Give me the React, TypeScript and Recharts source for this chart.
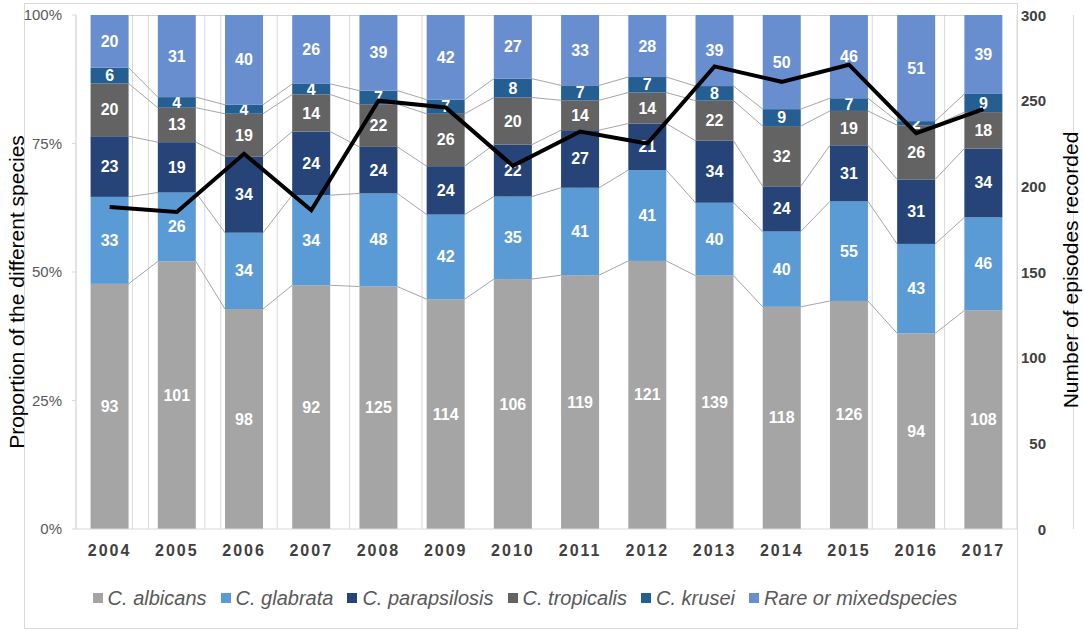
import React from "react";
import { ComposedChart, Bar, Line, XAxis, YAxis, CartesianGrid, Legend, Label } from "recharts";

const years = ["2004", "2005", "2006", "2007", "2008", "2009", "2010", "2011", "2012", "2013", "2014", "2015", "2016", "2017"];

const albicans = [93, 101, 98, 92, 125, 114, 106, 119, 121, 139, 118, 126, 94, 108];
const glabrata = [33, 26, 34, 34, 48, 42, 35, 41, 41, 40, 40, 55, 43, 46];
const parapsilosis = [23, 19, 34, 24, 24, 24, 22, 27, 21, 34, 24, 31, 31, 34];
const tropicalis = [20, 13, 19, 14, 22, 26, 20, 14, 14, 22, 32, 19, 26, 18];
const krusei = [6, 4, 4, 4, 7, 7, 8, 7, 7, 8, 9, 7, 2, 9];
const rare = [20, 31, 40, 26, 39, 42, 27, 33, 28, 39, 50, 46, 51, 39];

// total episodes (black line, right axis)
const episodes = [188, 185, 219, 186, 250, 246, 212, 232, 225, 270, 261, 271, 231, 245];

const percentTicks = [0, 0.25, 0.5, 0.75, 1];
const episodeTicks = [0, 50, 100, 150, 200, 250, 300];
// vertical grid: category boundaries plus a line next to each bar's right edge
const gridTicks = [
  0, 0.78, 1, 1.78, 2, 2.78, 3, 3.78, 4, 4.78, 5, 5.78, 6, 6.78, 7, 7.78,
  8, 8.78, 9, 9.78, 10, 10.78, 11, 11.78, 12, 12.78, 13, 13.78, 14,
];

const species = [
  { key: "albicans", name: "C. albicans", color: "#A5A5A5", values: albicans },
  { key: "glabrata", name: "C. glabrata", color: "#5B9BD5", values: glabrata },
  { key: "parapsilosis", name: "C. parapsilosis", color: "#264478", values: parapsilosis },
  { key: "tropicalis", name: "C. tropicalis", color: "#636363", values: tropicalis },
  { key: "krusei", name: "C. krusei", color: "#255E91", values: krusei },
  { key: "rare", name: "Rare or mixedspecies", color: "#698ED0", values: rare },
];

const total = (i: number) => species.reduce((acc, s) => acc + s.values[i], 0);

// each bar segment is the share of that year's episodes
const rows = years.map((year, i) => {
  const row: Record<string, any> = { year, episodes: episodes[i] };
  species.forEach((s) => (row[s.key] = s.values[i] / total(i)));
  return row;
});

const FONT = "'Liberation Sans', Arial, sans-serif";
const W = 1084;
const H = 631;
const LEFT_W = 76;
const RIGHT_W = 67;
const STEP = (W - LEFT_W - RIGHT_W) / years.length;

const cumTop = (s: number, i: number) => {
  let sum = 0;
  for (let j = 0; j <= s; j++) sum += species[j].values[i];
  return sum / total(i);
};

// bar segment + Excel-style series line to the next bar + count label
const segmentShape = (s: number) => (props: any) => {
  const { x, y, width, height, fill, background, payload } = props;
  const i = years.indexOf(payload.year);
  const top = background ? background.y : 15;
  const plotH = background ? background.height : 514;
  const hasNext = i >= 0 && i < years.length - 1;
  const yNext = hasNext ? top + (1 - cumTop(s, i + 1)) * plotH : 0;
  return (
    <g>
      <rect x={x} y={y} width={width} height={height} fill={fill} />
      {hasNext && (
        <line x1={x + width} y1={y} x2={x + STEP} y2={yNext} stroke="#A6A6A6" strokeWidth={1} />
      )}
      <text
        x={x + width / 2}
        y={y + height / 2}
        textAnchor="middle"
        dominantBaseline="central"
        fill="#fff"
        fontSize={16}
        fontWeight="bold"
      >
        {species[s].values[i]}
      </text>
    </g>
  );
};

const RightTick = (props: any) => {
  const { x, y, payload } = props;
  return (
    <text x={x + 29} y={y} textAnchor="end" dominantBaseline="central" fill="#404040" fontSize={15} fontWeight="bold">
      {payload.value}
    </text>
  );
};

const LeftTitle = (props: any) => {
  const vb = props.viewBox || { x: 0, y: 15, width: 76, height: 514 };
  const cx = vb.x + 16;
  const cy = vb.y + vb.height / 2 + 20;
  return (
    <text x={cx} y={cy} transform={`rotate(-90 ${cx} ${cy})`} textAnchor="middle" dominantBaseline="central" fill="#000" fontSize={21}>
      Proportion of the different species
    </text>
  );
};

const RightTitle = (props: any) => {
  const vb = props.viewBox || { x: 1017, y: 15, width: 67, height: 514 };
  const cx = vb.x + 53;
  const cy = vb.y + vb.height / 2 - 2;
  return (
    <text x={cx} y={cy} transform={`rotate(-90 ${cx} ${cy})`} textAnchor="middle" dominantBaseline="central" fill="#000" fontSize={21}>
      Number of episodes recorded
    </text>
  );
};

const renderLegend = () => (
  <div
    style={{
      display: "flex",
      justifyContent: "center",
      alignItems: "center",
      height: 28,
      fontFamily: FONT,
      fontSize: 20,
      fontStyle: "italic",
      color: "#595959",
      whiteSpace: "nowrap",
    }}
  >
    {species.map((s, i) => (
      <span key={s.key} style={{ display: "flex", alignItems: "center", marginLeft: i ? 14 : 0 }}>
        <span style={{ display: "inline-block", width: 10, height: 10, background: s.color, marginRight: 5 }} />
        {s.name}
      </span>
    ))}
  </div>
);

export default function App() {
  return (
    <div style={{ position: "absolute", left: 0, top: 0, width: W, height: H, fontFamily: FONT, background: "#fff" }}>
      <div
        style={{
          position: "absolute",
          left: 24,
          top: 3,
          width: 994,
          height: 626,
          border: "1px solid #D9D9D9",
          boxSizing: "border-box",
        }}
      />
      <ComposedChart
        width={W}
        height={H}
        data={rows}
        barCategoryGap="21.7%"
        margin={{ top: 15, right: 0, bottom: 0, left: 0 }}
      >
        <CartesianGrid xAxisId="grid" yAxisId="left" horizontal={false} stroke="#D9D9D9" />
        <XAxis
          xAxisId="cat"
          dataKey="year"
          height={74}
          interval={0}
          tickLine={false}
          tickSize={0}
          tickMargin={16}
          axisLine={{ stroke: "#D9D9D9" }}
          tick={{ fill: "#404040", fontSize: 16, fontWeight: "bold", letterSpacing: 2 }}
        />
        <XAxis xAxisId="grid" type="number" domain={[0, 14]} ticks={gridTicks} interval={0} allowDataOverflow hide />
        <YAxis
          yAxisId="left"
          width={LEFT_W}
          domain={[0, 1]}
          ticks={percentTicks}
          allowDataOverflow
          tickFormatter={(v: number) => `${Math.round(v * 100)}%`}
          axisLine={{ stroke: "#D9D9D9" }}
          tickLine={{ stroke: "#D9D9D9" }}
          tickSize={4}
          tickMargin={10}
          tick={{ fill: "#595959", fontSize: 15 }}
        >
          <Label content={LeftTitle} />
        </YAxis>
        <YAxis
          yAxisId="right"
          orientation="right"
          width={RIGHT_W}
          domain={[0, 300]}
          ticks={episodeTicks}
          interval={0}
          axisLine={false}
          tickLine={false}
          tickSize={0}
          tickMargin={0}
          tick={RightTick}
        >
          <Label content={RightTitle} />
        </YAxis>
        {species.map((s, idx) => (
          <Bar
            key={s.key}
            xAxisId="cat"
            yAxisId="left"
            dataKey={s.key}
            name={s.name}
            stackId="species"
            fill={s.color}
            shape={segmentShape(idx)}
            isAnimationActive={false}
          />
        ))}
        <Line
          xAxisId="cat"
          yAxisId="right"
          dataKey="episodes"
          type="linear"
          stroke="#000"
          strokeWidth={4}
          dot={false}
          legendType="none"
          isAnimationActive={false}
        />
        <Legend
          verticalAlign="bottom"
          content={renderLegend}
          wrapperStyle={{ left: 0, width: 1050, top: 584, bottom: "auto", height: 28 }}
        />
      </ComposedChart>
    </div>
  );
}
